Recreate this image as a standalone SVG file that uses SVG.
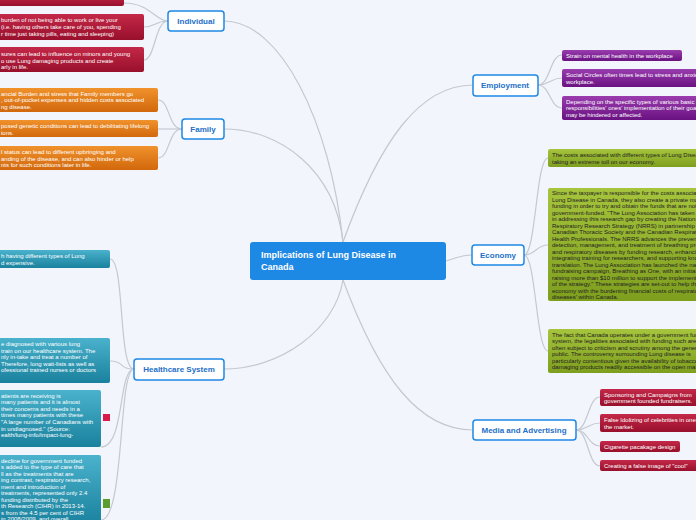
<svg xmlns="http://www.w3.org/2000/svg" width="696" height="520" viewBox="0 0 696 520">
<defs>
<linearGradient id="gr" x1="0" y1="0" x2="0" y2="1"><stop offset="0" stop-color="#c42848"/><stop offset="1" stop-color="#98102c"/></linearGradient>
<linearGradient id="go" x1="0" y1="0" x2="0" y2="1"><stop offset="0" stop-color="#f0922c"/><stop offset="1" stop-color="#d2680c"/></linearGradient>
<linearGradient id="gt" x1="0" y1="0" x2="0" y2="1"><stop offset="0" stop-color="#4ab2cc"/><stop offset="1" stop-color="#1a819e"/></linearGradient>
<linearGradient id="gp" x1="0" y1="0" x2="0" y2="1"><stop offset="0" stop-color="#9a3cae"/><stop offset="1" stop-color="#6a1282"/></linearGradient>
<linearGradient id="gg" x1="0" y1="0" x2="0" y2="1"><stop offset="0" stop-color="#a6c43c"/><stop offset="1" stop-color="#7e9e1e"/></linearGradient>
</defs>
<style>
.l{fill:none;stroke:#c4c8d0;stroke-width:1.2}
.m rect{fill:#fff;stroke:#1e88e5;stroke-width:1.5}
.m text{font:bold 8px "Liberation Sans",sans-serif;fill:#1e6fc8;text-anchor:middle}
.t{font:6px "Liberation Sans",sans-serif;fill:#fff}
.d{font:6px "Liberation Sans",sans-serif;fill:#222}
</style>
<rect width="696" height="520" fill="#f3f5fc"/>
<g id="connectors">
<path class="l" d="M343 242 C330 120 280 21 224 21"/>
<path class="l" d="M343 242 C335 170 280 129 224 129"/>
<path class="l" d="M343 280 C335 330 280 369 224 369"/>
<path class="l" d="M343 242 C380 140 420 85 473 85"/>
<path class="l" d="M446 261 C460 257 460 255 472 255"/>
<path class="l" d="M343 280 C380 380 420 430 473 430"/>
<path class="l" d="M168 21 C155 21 150 3 124 3"/>
<path class="l" d="M168 21 C155 21 155 27 144 27"/>
<path class="l" d="M168 21 C155 21 155 60 144 60"/>
<path class="l" d="M182 129 C168 129 170 100 158 100"/>
<path class="l" d="M182 129 C170 129 170 129 158 129"/>
<path class="l" d="M182 129 C168 129 170 158 158 158"/>
<path class="l" d="M134 369 C118 369 125 259 110 259"/>
<path class="l" d="M134 369 C118 369 125 361 110 361"/>
<path class="l" d="M134 369 C118 369 125 447 101 447"/>
<path class="l" d="M134 369 C118 369 125 520 101 520"/>
<path class="l" d="M538 85 C550 85 550 55 562 55"/>
<path class="l" d="M538 85 C550 85 550 78 562 78"/>
<path class="l" d="M538 85 C550 85 550 108 562 108"/>
<path class="l" d="M524 255 C536 255 536 158 548 158"/>
<path class="l" d="M524 255 C536 255 536 245 548 245"/>
<path class="l" d="M524 255 C536 255 536 351 548 351"/>
<path class="l" d="M576 430 C588 430 588 397 600 397"/>
<path class="l" d="M576 430 C588 430 588 423 600 423"/>
<path class="l" d="M576 430 C588 430 588 446 600 446"/>
<path class="l" d="M576 430 C588 430 588 466 600 466"/>
</g>
<g id="center"><rect x="250" y="242" width="196" height="38" rx="3" fill="#1e88e5"/><text x="261" y="258" font-family="Liberation Sans,sans-serif" font-weight="bold" font-size="9" fill="#fff">Implications of Lung Disease in</text><text x="261" y="270" font-family="Liberation Sans,sans-serif" font-weight="bold" font-size="9" fill="#fff">Canada</text></g>
<g id="individual" class="m"><rect x="168" y="11" width="56" height="20" rx="3"/><text x="196" y="24">Individual</text></g>
<g id="family" class="m"><rect x="182" y="119" width="42" height="20" rx="3"/><text x="203" y="132">Family</text></g>
<g id="healthcare" class="m"><rect x="134" y="359" width="90" height="21" rx="3"/><text x="179" y="372">Healthcare System</text></g>
<g id="employment" class="m"><rect x="473" y="75" width="65" height="21" rx="3"/><text x="505" y="88">Employment</text></g>
<g id="economy" class="m"><rect x="472" y="245" width="52" height="20" rx="3"/><text x="498" y="258">Economy</text></g>
<g id="media" class="m"><rect x="473" y="420" width="103" height="20" rx="3"/><text x="524" y="433">Media and Advertising</text></g>
<g id="ind1"><rect x="-5" y="-5" width="129" height="11" rx="2" fill="url(#gr)"/></g>
<g id="ind2"><rect x="-5" y="14" width="149" height="26" rx="2" fill="url(#gr)"/><text class="t" x="1" y="22">burden of not being able to work or live your</text><text class="t" x="1" y="29">(i.e. having others take care of you, spending</text><text class="t" x="1" y="36">r time just taking pills, eating and sleeping)</text></g>
<g id="ind3"><rect x="-5" y="47" width="149" height="25" rx="2" fill="url(#gr)"/><text class="t" x="1" y="56">sures can lead to influence on minors and young</text><text class="t" x="1" y="63">o use Lung damaging products and create</text><text class="t" x="1" y="69">arly in life.</text></g>
<g id="fam1"><rect x="-5" y="88" width="163" height="24" rx="2" fill="url(#go)"/><text class="t" x="1" y="96">ancial Burden and stress that Family members go</text><text class="t" x="1" y="102">, out-of-pocket expenses and hidden costs associated</text><text class="t" x="1" y="109">ng disease.</text></g>
<g id="fam2"><rect x="-5" y="120" width="163" height="17" rx="2" fill="url(#go)"/><text class="t" x="1" y="128">posed genetic conditions can lead to debilitating lifelong</text><text class="t" x="1" y="135">ions.</text></g>
<g id="fam3"><rect x="-5" y="146" width="163" height="24" rx="2" fill="url(#go)"/><text class="t" x="1" y="154">l status can lead to different upbringing and</text><text class="t" x="1" y="161">anding of the disease, and can also hinder or help</text><text class="t" x="1" y="167">nts for such conditions later in life.</text></g>
<g id="hc1"><rect x="-5" y="250" width="115" height="18" rx="2" fill="url(#gt)"/><text class="t" x="1" y="258">h having different types of Lung</text><text class="t" x="1" y="265">d expensive.</text></g>
<g id="hc2"><rect x="-5" y="338" width="115" height="45" rx="2" fill="url(#gt)"/><text class="t" x="1" y="346">e diagnosed with various lung</text><text class="t" x="1" y="353">train on our healthcare system. The</text><text class="t" x="1" y="359">nly in-take and treat a number of</text><text class="t" x="1" y="366">Therefore, long wait-lists as well as</text><text class="t" x="1" y="372">ofessional trained nurses or doctors</text></g>
<g id="hc3"><rect x="-5" y="390" width="106" height="57" rx="2" fill="url(#gt)"/><text class="t" x="1" y="398">atients are receiving is</text><text class="t" x="1" y="404">many patients and it is almost</text><text class="t" x="1" y="411">their concerns and needs in a</text><text class="t" x="1" y="417">times many patients with these</text><text class="t" x="1" y="424">"A large number of Canadians with</text><text class="t" x="1" y="431">in undiagnosed." (Source:</text><text class="t" x="1" y="437">ealth/lung-info/impact-lung-</text><rect x="103" y="414" width="7" height="7" fill="#d81b48"/></g>
<g id="hc4"><rect x="-5" y="455" width="106" height="70" rx="2" fill="url(#gt)"/><text class="t" x="1" y="463">decline for government funded</text><text class="t" x="1" y="469">s added to the type of care that</text><text class="t" x="1" y="476">ll as the treatments that are</text><text class="t" x="1" y="482">ing contrast, respiratory research,</text><text class="t" x="1" y="489">ment and introduction of</text><text class="t" x="1" y="495">treatments, represented only 2.4</text><text class="t" x="1" y="502">funding distributed by the</text><text class="t" x="1" y="508">th Research (CIHR) in 2013-14.</text><text class="t" x="1" y="515">s from the 4.5 per cent of CIHR</text><text class="t" x="1" y="521">in 2008/2009, and overall</text><rect x="103" y="499" width="7" height="9" fill="#5a9e2e"/></g>
<g id="emp1"><rect x="562" y="50" width="120" height="11" rx="2" fill="url(#gp)"/><text class="t" x="566" y="58">Strain on mental health in the workplace</text></g>
<g id="emp2"><rect x="562" y="69" width="140" height="18" rx="2" fill="url(#gp)"/><text class="t" x="566" y="77">Social Circles often times lead to stress and anxiety in the</text><text class="t" x="566" y="84">workplace.</text></g>
<g id="emp3"><rect x="562" y="96" width="140" height="24" rx="2" fill="url(#gp)"/><text class="t" x="566" y="104">Depending on the specific types of various basic</text><text class="t" x="566" y="110">responsibilities' ones' implementation of their goals</text><text class="t" x="566" y="117">may be hindered or affected.</text></g>
<g id="eco1"><rect x="548" y="149" width="155" height="18" rx="2" fill="url(#gg)"/><text class="d" x="552" y="157">The costs associated with different types of Lung Disease are</text><text class="d" x="552" y="164">taking an extreme toll on our economy.</text></g>
<g id="eco2"><rect x="548" y="188" width="155" height="113" rx="2" fill="url(#gg)"/><text class="d" x="552" y="195">Since the taxpayer is responsible for the costs associated with</text><text class="d" x="552" y="202">Lung Disease in Canada, they also create a private market of</text><text class="d" x="552" y="208">funding in order to try and obtain the funds that are not</text><text class="d" x="552" y="215">government-funded. "The Lung Association has taken the lead</text><text class="d" x="552" y="221">in addressing this research gap by creating the National</text><text class="d" x="552" y="228">Respiratory Research Strategy (NRRS) in partnership with the</text><text class="d" x="552" y="234">Canadian Thoracic Society and the Canadian Respiratory</text><text class="d" x="552" y="241">Health Professionals. The NRRS advances the prevention,</text><text class="d" x="552" y="247">detection, management, and treatment of breathing problems</text><text class="d" x="552" y="254">and respiratory diseases by funding research, enhancing and</text><text class="d" x="552" y="260">integrating training for researchers, and supporting knowledge</text><text class="d" x="552" y="267">translation. The Lung Association has launched the national</text><text class="d" x="552" y="273">fundraising campaign, Breathing as One, with an initial goal of</text><text class="d" x="552" y="280">raising more than $10 million to support the implementation</text><text class="d" x="552" y="286">of the strategy." These strategies are set-out to help the</text><text class="d" x="552" y="293">economy with the burdening financial costs of respiratory</text><text class="d" x="552" y="299">diseases' within Canada.</text></g>
<g id="eco3"><rect x="548" y="329" width="155" height="44" rx="2" fill="url(#gg)"/><text class="d" x="552" y="337">The fact that Canada operates under a government funded</text><text class="d" x="552" y="343">system, the legalities associated with funding such are</text><text class="d" x="552" y="350">often subject to criticism and scrutiny among the general</text><text class="d" x="552" y="356">public.  The controversy surrounding Lung disease is</text><text class="d" x="552" y="363">particularly contentious given the availability of tobacco</text><text class="d" x="552" y="369">damaging products readily accessible on the open market.</text></g>
<g id="med1"><rect x="600" y="389" width="100" height="17" rx="2" fill="url(#gr)"/><text class="t" x="604" y="397">Sponsoring and Campaigns from</text><text class="t" x="604" y="403">government founded fundraisers.</text></g>
<g id="med2"><rect x="600" y="414" width="100" height="18" rx="2" fill="url(#gr)"/><text class="t" x="604" y="422">False Idolizing of celebrities in ones</text><text class="t" x="604" y="429">the market.</text></g>
<g id="med3"><rect x="600" y="441" width="80" height="11" rx="2" fill="url(#gr)"/><text class="t" x="604" y="449">Cigarette pacakage design</text></g>
<g id="med4"><rect x="600" y="460" width="100" height="11" rx="2" fill="url(#gr)"/><text class="t" x="604" y="468">Creating a false image of "cool"</text></g>
</svg>
